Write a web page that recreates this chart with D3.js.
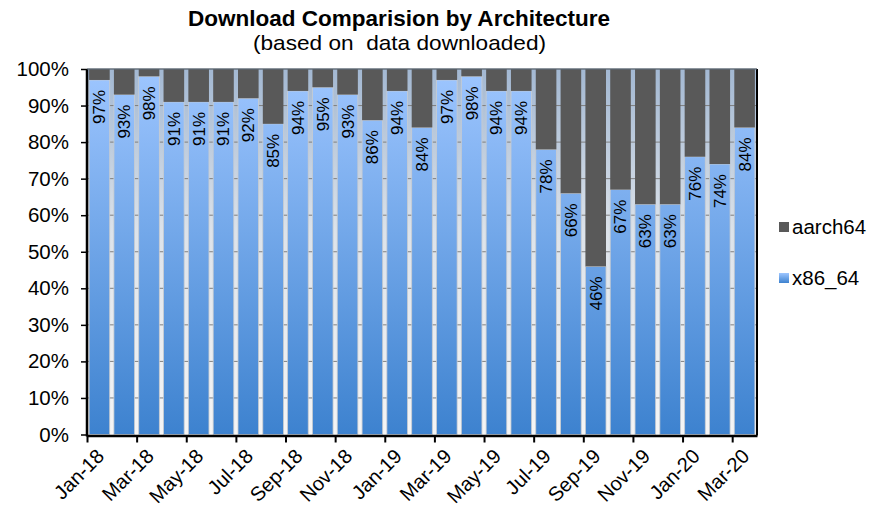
<html>
<script src='https://d3js.org/d3.v7.min.js'></script>
<style>
body {margin:0; background:#fff;}
text {font-family: Arial, 'Liberation Sans', sans-serif; fill:#000;}
</style>
<body onload='init()'>
<svg width=881 height=509></svg>
<script>
// months, x86_64 share (percent)
var months = ["Jan-18","Feb-18","Mar-18","Apr-18","May-18","Jun-18","Jul-18","Aug-18","Sep-18","Oct-18","Nov-18","Dec-18",
              "Jan-19","Feb-19","Mar-19","Apr-19","May-19","Jun-19","Jul-19","Aug-19","Sep-19","Oct-19","Nov-19","Dec-19",
              "Jan-20","Feb-20","Mar-20"];
var x86 = [97,93,98,91,91,91,92,85,94,95,93,86,94,84,97,98,94,94,78,66,46,67,63,63,76,74,84];
var aarch = x86.map(v => 100 - v);
var yTicks = [0,10,20,30,40,50,60,70,80,90,100];
var seriesNames = ["aarch64","x86_64"];

function init() {
  var svg = d3.select("svg");
  var L = 87, R = 757, T = 69, B = 434.5;

  var x = d3.scaleBand().domain(months).range([L, R]).paddingInner(0.17).paddingOuter(0.085);
  var xi = d3.scaleLinear().domain([0, months.length]).range([L, R]);
  var y = d3.scaleLinear().domain([0, 100]).range([B, T]);

  var defs = svg.append("defs");
  var bg = defs.append("linearGradient").attr("id","bg").attr("x1",0).attr("x2",0).attr("y1",0).attr("y2",1);
  bg.append("stop").attr("offset","0%").attr("stop-color","#a3b8d2");
  bg.append("stop").attr("offset","45%").attr("stop-color","#dde3ea");
  bg.append("stop").attr("offset","100%").attr("stop-color","#f5f5f5");
  var blue = defs.append("linearGradient").attr("id","blue").attr("gradientUnits","userSpaceOnUse")
    .attr("x1",0).attr("x2",0).attr("y1",T).attr("y2",B);
  blue.append("stop").attr("offset","0%").attr("stop-color","#9ec6ff");
  blue.append("stop").attr("offset","100%").attr("stop-color","#3d82cf");
  var lg = defs.append("linearGradient").attr("id","lg").attr("x1",0).attr("x2",0).attr("y1",0).attr("y2",1);
  lg.append("stop").attr("offset","0%").attr("stop-color","#9ec6ff");
  lg.append("stop").attr("offset","100%").attr("stop-color","#3d82cf");

  // plot background
  svg.append("rect").attr("x",L).attr("y",T).attr("width",R-L).attr("height",B-T).attr("fill","url(#bg)");

  // gridlines
  svg.append("g").selectAll("line").data(yTicks.slice(1)).enter().append("line")
    .attr("x1",L).attr("x2",R).attr("y1",d=>y(d)).attr("y2",d=>y(d))
    .attr("stroke","#7f7f7f").attr("stroke-width",1);

  // bars
  var g = svg.append("g");
  g.selectAll(".x86").data(x86).enter().append("rect")
    .attr("x",(d,i)=>x(months[i])).attr("width",x.bandwidth())
    .attr("y",d=>y(d)).attr("height",d=>y(0)-y(d))
    .attr("fill","url(#blue)").attr("stroke","#c9ccd0").attr("stroke-width",0.8);
  g.selectAll(".aa").data(aarch).enter().append("rect")
    .attr("x",(d,i)=>x(months[i])).attr("width",x.bandwidth())
    .attr("y",y(100)).attr("height",(d,i)=>y(x86[i])-y(100))
    .attr("fill","#595959");

  // value labels, reading upward
  g.selectAll(".lbl").data(x86).enter().append("text")
    .attr("transform",(d,i)=>"translate("+(x(months[i])+x.bandwidth()/2)+","+(y(d)+10)+") rotate(-90)")
    .attr("dy","0.35em").attr("text-anchor","end")
    .style("font-size","17px").text(d=>d+"%");

  // axes
  var ya = svg.append("g").attr("transform","translate("+L+",0)")
    .call(d3.axisLeft(y).tickValues(yTicks).tickFormat(d=>d+"%").tickSize(6).tickPadding(12));
  ya.selectAll("text").style("font-size","20.5px");
  ya.select(".domain").attr("stroke-width",2.5).attr("d","M0,"+T+"V"+(B+2));
  ya.selectAll("line").attr("stroke-width",1.5);

  var xa = svg.append("g").attr("transform","translate(0,"+(B+1)+")")
    .call(d3.axisBottom(xi).tickValues(d3.range(0, months.length, 2)).tickFormat(i=>months[i]).tickSize(7).tickSizeOuter(0));
  xa.select(".domain").attr("stroke-width",2.5);
  xa.selectAll("line").attr("stroke-width",2);
  xa.selectAll("text").attr("y",0).attr("x",0).attr("dy","0.35em")
    .attr("text-anchor","end").attr("transform","translate(13,17) rotate(-45)")
    .style("font-size","20px");

  // right and top frame
  svg.append("line").attr("x1",R).attr("x2",R).attr("y1",T).attr("y2",B+1).attr("stroke","#000").attr("stroke-width",2);
  svg.append("line").attr("x1",L).attr("x2",R).attr("y1",T).attr("y2",T).attr("stroke","#5a6a7a").attr("stroke-width",1);

  // titles
  svg.append("text").attr("x",399).attr("y",26).attr("text-anchor","middle")
    .attr("textLength",422).attr("lengthAdjust","spacingAndGlyphs")
    .style("font-size","21.5px").style("font-weight","bold").text("Download Comparision by Architecture");
  svg.append("text").attr("x",399.5).attr("y",50).attr("text-anchor","middle")
    .attr("textLength",293).attr("lengthAdjust","spacingAndGlyphs")
    .style("font-size","21px").style("white-space","pre").text("(based on  data downloaded)");

  // legend
  var leg = svg.append("g").selectAll("g").data(seriesNames).enter().append("g")
    .attr("transform",(d,i)=>"translate(779,"+(227 + i*51)+")");
  leg.append("rect").attr("x",0).attr("y",-5).attr("width",10).attr("height",10)
    .attr("fill",(d,i)=> i==0 ? "#595959" : "url(#lg)");
  leg.append("text").attr("x",13).attr("dy","0.35em").style("font-size","20.5px").text(d=>d);
}
</script>
</body>
</html>
